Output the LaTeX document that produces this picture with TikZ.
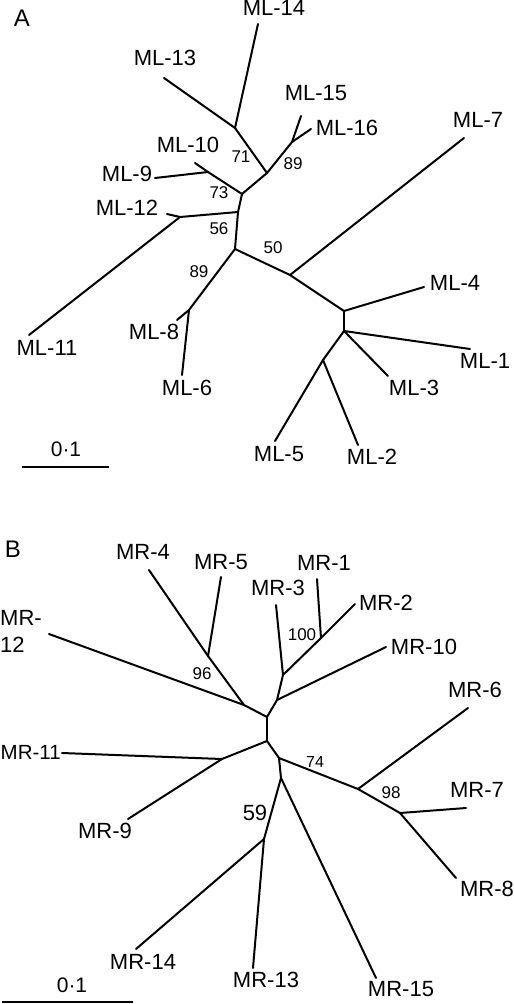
\documentclass[tikz,border=0pt]{standalone}
\usepackage{fontspec}
\setmainfont{Liberation Sans}
\tikzset{
    branch/.style = {line width=2pt,
                    line cap=round,
                    line join=round,
                    draw=black},
    taxon/.style =  {inner sep=0pt,
                    text=black,
                    font=\fontsize{22}{27}\selectfont},
    boot/.style =   {inner sep=0pt,
                    text=black,
                    font=\fontsize{17}{20}\selectfont},
    panel/.style =  {inner sep=0pt,
                    text=black,
                    font=\fontsize{24}{28}\selectfont},
    -,
    every edge/.style={draw,branch}}

\begin{document}
\begin{tikzpicture}[x=1pt,y=-1pt]
                \useasboundingbox (0,0) rectangle (514,1004);
                % panel A
                \node[panel]  (pA) at (22,18)  {A};
                \coordinate (a1) at (235,128);
                \coordinate (a2) at (267,173);
                \coordinate (a3) at (292,142);
                \coordinate (a4) at (242,194);
                \coordinate (a5) at (208,172);
                \coordinate (a6) at (238,212);
                \coordinate (a7) at (180,217);
                \coordinate (a8) at (235,249);
                \coordinate (a9) at (189,310);
                \coordinate (a10) at (290,275);
                \coordinate (a11) at (344,311);
                \coordinate (a12) at (344,331);
                \coordinate (a13) at (323,360);
                \coordinate (ml14) at (258,24);
                \coordinate (ml13) at (164,78);
                \coordinate (ml15) at (301,116);
                \coordinate (ml16) at (311,129);
                \coordinate (ml10) at (195,163);
                \coordinate (ml9) at (155,178);
                \coordinate (ml12) at (167,214);
                \coordinate (ml11) at (29,335);
                \coordinate (ml7) at (464,138);
                \coordinate (ml4) at (424,287);
                \coordinate (ml1) at (470,349);
                \coordinate (ml3) at (388,376);
                \coordinate (ml5) at (275,441);
                \coordinate (ml2) at (358,445);
                \coordinate (ml8) at (177,320);
                \coordinate (ml6) at (182,375);
                \node[taxon] (tml14) at (274,8)   {ML-14};
                \node[taxon] (tml13) at (165,58)  {ML-13};
                \node[taxon] (tml15) at (316,93)  {ML-15};
                \node[taxon] (tml16) at (347,128) {ML-16};
                \node[taxon] (tml10) at (188,145) {ML-10};
                \node[taxon] (tml9)  at (127,174) {ML-9};
                \node[taxon] (tml12) at (127,208) {ML-12};
                \node[taxon] (tml7)  at (478,120) {ML-7};
                \node[taxon] (tml4)  at (455,283) {ML-4};
                \node[taxon] (tml11) at (47,348)  {ML-11};
                \node[taxon] (tml8)  at (154,332) {ML-8};
                \node[taxon] (tml6)  at (187,388) {ML-6};
                \node[taxon] (tml1)  at (485,361) {ML-1};
                \node[taxon] (tml3)  at (414,388) {ML-3};
                \node[taxon] (tml5)  at (279,454) {ML-5};
                \node[taxon] (tml2)  at (372,457) {ML-2};
                \node[boot] (b71) at (241,157) {71};
                \node[boot] (b89a) at (293,164) {89};
                \node[boot] (b73) at (219,193) {73};
                \node[boot] (b56) at (219,229) {56};
                \node[boot] (b50) at (273,248) {50};
                \node[boot] (b89b) at (199,272) {89};
                \path [branch]  (a1) edge (ml14)
                                (a1) edge (ml13)
                                (a1) edge (a2)
                                (a2) edge (a3)
                                (a3) edge (ml15)
                                (a3) edge (ml16)
                                (a2) edge (a4)
                                (a4) edge (a5)
                                (a5) edge (ml10)
                                (a5) edge (ml9)
                                (a4) edge (a6)
                                (a6) edge (a7)
                                (a7) edge (ml12)
                                (a7) edge (ml11)
                                (a6) edge (a8)
                                (a8) edge (a9)
                                (a9) edge (ml8)
                                (a9) edge (ml6)
                                (a8) edge (a10)
                                (a10) edge (ml7)
                                (a10) edge (a11)
                                (a11) edge (ml4)
                                (a11) edge (a12)
                                (a12) edge (ml1)
                                (a12) edge (ml3)
                                (a12) edge (a13)
                                (a13) edge (ml5)
                                (a13) edge (ml2);
                % scale A
                \coordinate (sa1) at (22,467);
                \coordinate (sa2) at (109,467);
                \node[taxon,font=\fontsize{21}{25}\selectfont] (sca) at (66,449) {0·1};
                \draw[line width=2pt] (sa1) -- (sa2);
                % panel B
                \node[panel]  (pB) at (13,549)  {B};
                \coordinate (b1) at (208,656);
                \coordinate (b2) at (244,705);
                \coordinate (b3) at (267,717);
                \coordinate (b4) at (277,700);
                \coordinate (b5) at (283,675);
                \coordinate (b6) at (321,638);
                \coordinate (b7) at (267,741);
                \coordinate (b8) at (222,759);
                \coordinate (b9) at (279,758);
                \coordinate (b10) at (358,789);
                \coordinate (b11) at (400,813);
                \coordinate (b12) at (281,778);
                \coordinate (b13) at (264,839);
                \coordinate (mr4) at (149,570);
                \coordinate (mr5) at (221,577);
                \coordinate (mr12) at (49,634);
                \coordinate (mr3) at (276,605);
                \coordinate (mr1) at (317,579);
                \coordinate (mr2) at (355,604);
                \coordinate (mr10) at (386,647);
                \coordinate (mr6) at (468,708);
                \coordinate (mr7) at (466,808);
                \coordinate (mr8) at (456,878);
                \coordinate (mr11) at (62,753);
                \coordinate (mr9) at (128,819);
                \coordinate (mr15) at (376,978);
                \coordinate (mr14) at (136,949);
                \coordinate (mr13) at (253,968);
                \node[taxon] (tmr4)  at (143,552) {MR-4};
                \node[taxon] (tmr5)  at (221,562) {MR-5};
                \node[taxon] (tmr3)  at (278,588) {MR-3};
                \node[taxon] (tmr1)  at (324,563) {MR-1};
                \node[taxon] (tmr2)  at (386,603) {MR-2};
                \node[taxon] (tmr10) at (424,647) {MR-10};
                \node[taxon,align=left,anchor=west] (tmr12) at (0,631) {MR-\\12};
                \node[taxon,anchor=west,font=\fontsize{20.5}{25}\selectfont] (tmr11) at (0.5,752) {MR-11};
                \node[taxon] (tmr9)  at (105,831) {MR-9};
                \node[taxon] (tmr6)  at (475,690) {MR-6};
                \node[taxon] (tmr7)  at (477,790) {MR-7};
                \node[taxon] (tmr8)  at (487,889) {MR-8};
                \node[taxon] (tmr14) at (143,962) {MR-14};
                \node[taxon] (tmr13) at (266,980) {MR-13};
                \node[taxon] (tmr15) at (401,989) {MR-15};
                \node[boot] (b96)  at (202,674) {96};
                \node[boot] (b100) at (302,635) {100};
                \node[boot,font=\fontsize{16}{19}\selectfont] (b74) at (315,762) {74};
                \node[boot] (b98)  at (391,793) {98};
                \node[taxon] (b59) at (255,813) {59};
                \path [branch]  (mr4) edge (b1)
                                (b1) edge (mr5)
                                (b1) edge (b2)
                                (mr12) edge (b2)
                                (b2) edge (b3)
                                (b3) edge (b4)
                                (b4) edge (mr10)
                                (b4) edge (b5)
                                (b5) edge (mr3)
                                (b5) edge (b6)
                                (b6) edge (mr1)
                                (b6) edge (mr2)
                                (b3) edge (b7)
                                (b7) edge (b8)
                                (b8) edge (mr11)
                                (b8) edge (mr9)
                                (b7) edge (b9)
                                (b9) edge (b10)
                                (b10) edge (mr6)
                                (b10) edge (b11)
                                (b11) edge (mr7)
                                (b11) edge (mr8)
                                (b9) edge (b12)
                                (b12) edge (mr15)
                                (b12) edge (b13)
                                (b13) edge (mr14)
                                (b13) edge (mr13);
                % scale B
                \coordinate (sb1) at (2,1002);
                \coordinate (sb2) at (133,1002);
                \node[taxon,font=\fontsize{21}{25}\selectfont] (scb) at (72,985) {0·1};
                \draw[line width=2pt] (sb1) -- (sb2);
        \end{tikzpicture}
\end{document}
